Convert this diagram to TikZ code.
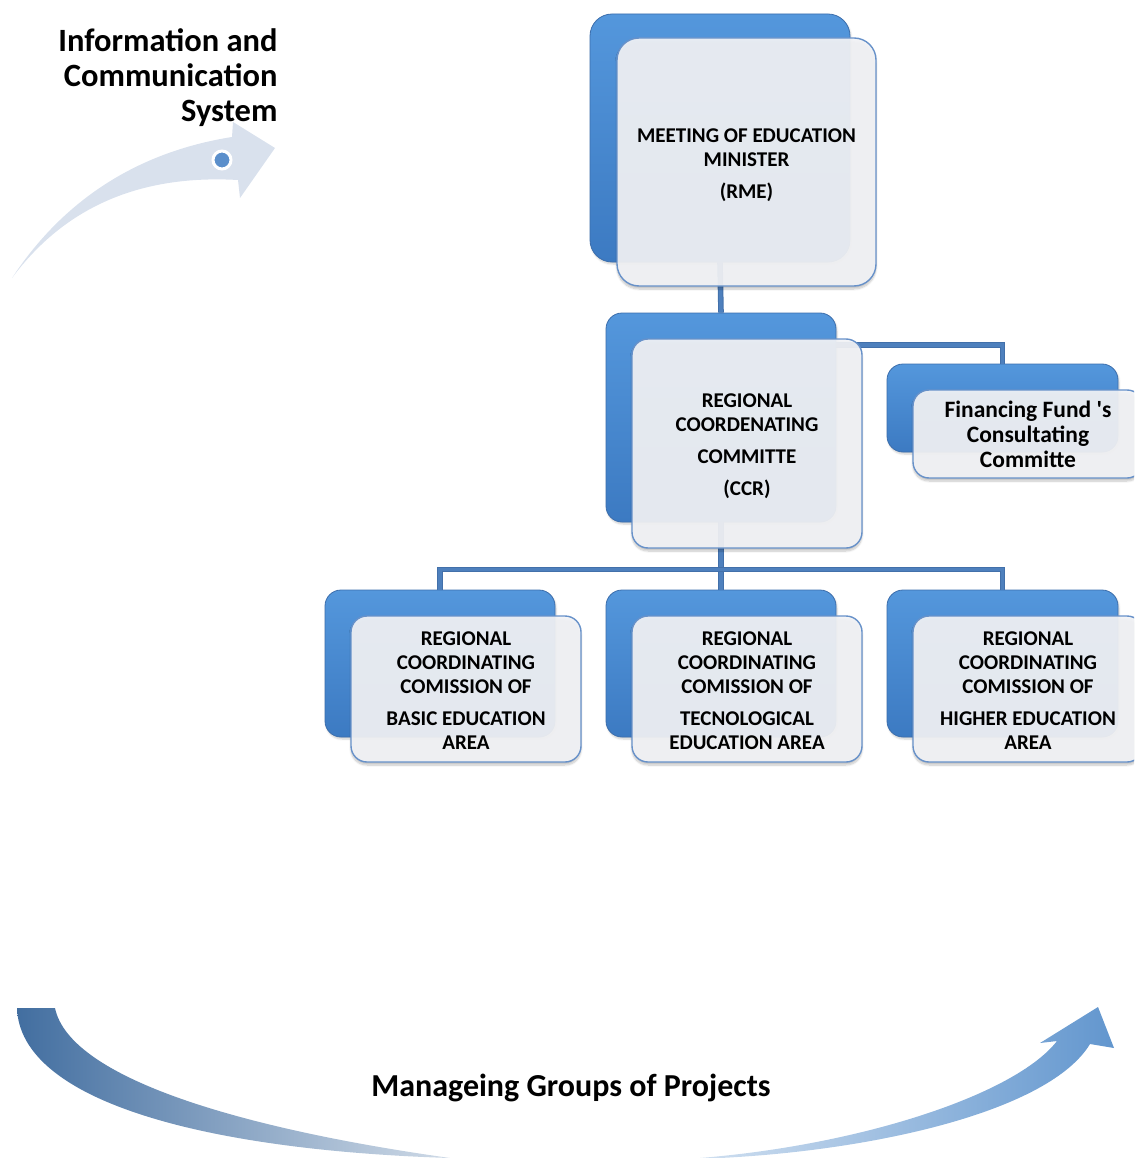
\documentclass[tikz,border=0pt]{standalone}
\usepackage{fontspec}
\setmainfont{Carlito}[Ligatures=TeXOff]
\usetikzlibrary{shadows.blur}

\definecolor{boxblue}{RGB}{84,151,220}
\definecolor{boxbluedark}{RGB}{60,122,194}
\definecolor{boxedge}{RGB}{60,110,172}
\definecolor{panelfill}{RGB}{242,243,246}
\definecolor{paneledge}{RGB}{103,145,201}
\definecolor{linkblue}{RGB}{78,128,189}
\definecolor{linkedge}{RGB}{66,112,170}
\definecolor{paleflow}{RGB}{217,225,237}
\definecolor{dotblue}{RGB}{91,143,203}
\definecolor{flowdark}{RGB}{66,110,160}
\definecolor{flowlight}{RGB}{98,150,206}

% centred panel text, pushed down by half of the given gap
\newcommand\paneltext[3]{\parbox{#1}{\centering\vspace*{#2}#3}}

\tikzset{
  backbox/.style={rounded corners=#1, draw=boxedge, line width=0.8pt,
    top color=boxblue, bottom color=boxbluedark, inner sep=0pt,
    blur shadow={shadow xshift=1pt, shadow yshift=-2pt, shadow opacity=20, shadow blur steps=6}},
  backbox/.default=16pt,
  panel/.style={rounded corners=#1, draw=paneledge, line width=1.4pt,
    fill=panelfill, fill opacity=0.93, text opacity=1, align=center,
    inner sep=0pt, font=\bfseries\fontsize{21}{24}\selectfont,
    blur shadow={shadow xshift=0pt, shadow yshift=-3pt, shadow opacity=25, shadow blur steps=8}},
  panel/.default=16pt,
  link/.style={draw=linkedge, line width=1pt, double=linkblue, double distance=3.6pt},
  heading/.style={font=\bfseries\fontsize{32.5}{35}\selectfont}
}

\begin{document}
\begin{tikzpicture}[x=1pt,y=-1pt]
\useasboundingbox (0,0) rectangle (1134,1158);
\clip (0,0) rectangle (1134,1158);

% pale curved arrow with its dot
\fill[paleflow] (12,278) .. controls (70,190) and (150,150) .. (232,137)
  -- (233,122) -- (275,148) -- (240,198) -- (238,180)
  .. controls (150,175) and (70,200) .. (12,278) -- cycle;
\fill[dotblue, draw=white, line width=3pt] (222,160) circle (9pt);

\node[heading, anchor=north east, align=right] (ict) at (281,25)
  {Information and\\Communication\\System};

% lower sweeping arrows
\shade[left color=flowdark, right color=flowdark!25!white]
  (17,1008) .. controls (20,1100) and (200,1150) .. (450,1158)
  .. controls (250,1130) and (70,1080) .. (55,1008) -- cycle;
\shade[left color=flowlight!30!white, right color=flowlight]
  (700,1158) .. controls (860,1145) and (1015,1095) .. (1057,1041)
  -- (1040,1043) -- (1098,1007) -- (1114,1048) -- (1090,1044)
  .. controls (1050,1110) and (880,1150) .. (720,1158) -- cycle;

\node[heading, font=\bfseries\fontsize{32}{35}\selectfont] (mgp) at (571,1088)
  {Manageing Groups of Projects};

% back plates
\node[backbox=22pt, minimum width=260pt, minimum height=248pt] (rmeB) at (720,138) {};
\node[backbox, minimum width=230pt, minimum height=209pt] (ccrB) at (721,417.5) {};
\node[backbox, minimum width=231pt, minimum height=88pt] (finB) at (1002.5,408) {};
\node[backbox, minimum width=230pt, minimum height=147pt] (basB) at (440,663.5) {};
\node[backbox, minimum width=230pt, minimum height=147pt] (tecB) at (721,663.5) {};
\node[backbox, minimum width=231pt, minimum height=147pt] (higB) at (1002.5,663.5) {};

% connectors
\draw[link] (rmeB.south) -- (ccrB.north);
\draw[link] (ccrB.east |- 0,345) -| (finB.north);
\draw[link] (ccrB.south) -- (tecB.north);
\draw[link] (basB.north) -- ++(0,-20) -| (higB.north);

% front panels
\node[panel=22pt, minimum width=259pt, minimum height=248pt] (rme) at (746.5,162)
  {\paneltext{250pt}{6pt}{MEETING OF EDUCATION\\MINISTER\\[8pt](RME)}};
\node[panel, minimum width=230pt, minimum height=209pt] (ccr) at (747,443.5)
  {\paneltext{220pt}{6pt}{REGIONAL\\COORDENATING\\[8pt]COMMITTE\\[8pt](CCR)}};
\node[panel, minimum width=230pt, minimum height=88pt,
  font=\bfseries\fontsize{23.5}{25}\selectfont] (fin) at (1028,434)
  {Financing Fund 's\\Consultating\\Committe};
\node[panel, minimum width=230pt, minimum height=146pt] (bas) at (466,689)
  {\paneltext{225pt}{4pt}{REGIONAL\\COORDINATING\\COMISSION OF\\[8pt]BASIC EDUCATION\\AREA}};
\node[panel, minimum width=230pt, minimum height=146pt] (tec) at (747,689)
  {\paneltext{225pt}{4pt}{REGIONAL\\COORDINATING\\COMISSION OF\\[8pt]TECNOLOGICAL\\EDUCATION AREA}};
\node[panel, minimum width=230pt, minimum height=146pt] (hig) at (1028,689)
  {\paneltext{225pt}{4pt}{REGIONAL\\COORDINATING\\COMISSION OF\\[8pt]HIGHER EDUCATION\\AREA}};
\end{tikzpicture}
\end{document}
